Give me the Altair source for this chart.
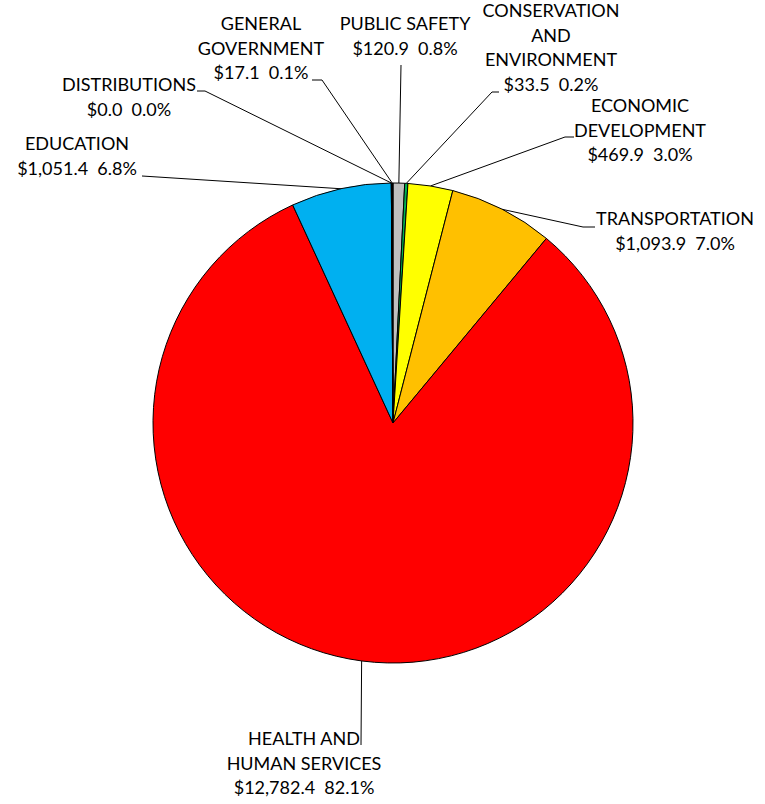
import math
import altair as alt
import pandas as pd

# ---- data ----
names = ["PUBLIC SAFETY", "CONSERVATION AND ENVIRONMENT", "ECONOMIC DEVELOPMENT",
         "TRANSPORTATION", "HEALTH AND HUMAN SERVICES", "EDUCATION",
         "DISTRIBUTIONS", "GENERAL GOVERNMENT"]
label_names = ["PUBLIC SAFETY", "CONSERVATION\nAND\nENVIRONMENT", "ECONOMIC\nDEVELOPMENT",
               "TRANSPORTATION", "HEALTH AND\nHUMAN SERVICES", "EDUCATION",
               "DISTRIBUTIONS", "GENERAL\nGOVERNMENT"]
values = [120.9, 33.5, 469.9, 1093.9, 12782.4, 1051.4, 0.0, 17.1]
colors = ["#BFBFBF", "#00B050", "#FFFF00", "#FFC000", "#FF0000", "#00B0F0", "#7F7F7F", "#000000"]

# ---- layout (pixels) ----
CX, CY, R = 393, 423, 240
label_x = [405, 551, 640, 675, 304, 77, 129, 261]
label_y = [25, 12, 107, 220, 740, 145, 86, 25]
leader_pts = [
    [(401, 65)],
    [(492, 92), (499, 92)],
    [(565, 137), (574, 137)],
    [(583, 227), (595, 227)],
    [(361, 745)],
    [(142, 176)],
    [(205, 91), (197, 91)],
    [(322, 80), (312, 80)],
]

total = sum(values)
slices = pd.DataFrame({"name": names, "value": values, "idx": list(range(len(names)))})

texts = []
for i, n in enumerate(names):
    v = values[i]
    txt = label_names[i] + "\n" + f"${v:,.1f}\u00a0\u00a0{v / total * 100:.1f}%"
    texts.append({"name": n, "text": txt, "x": label_x[i], "y": label_y[i]})
text_df = pd.DataFrame(texts)

rows = []
cum = 0.0
for i, n in enumerate(names):
    mid = (cum + values[i] / 2) / total * 2 * math.pi
    cum += values[i]
    px = CX + R * math.sin(mid)
    py = CY - R * math.cos(mid)
    pts = [(px, py)] + leader_pts[i]
    for j, (x, y) in enumerate(pts):
        rows.append({"name": n, "seq": j, "x": x, "y": y})
lines_df = pd.DataFrame(rows)

FONT = "Lato"

pie = alt.Chart(slices).mark_arc(outerRadius=R, stroke="black", strokeWidth=1).encode(
    theta=alt.Theta("value:Q", stack=True),
    order=alt.Order("idx:Q", sort="ascending"),
    color=alt.Color("name:N", scale=alt.Scale(domain=names, range=colors), legend=None),
    x=alt.value(CX),
    y=alt.value(CY),
)

leaders = alt.Chart(lines_df).mark_line(color="black", strokeWidth=1).encode(
    x=alt.X("x:Q", scale=None),
    y=alt.Y("y:Q", scale=None),
    detail="name:N",
    order="seq:Q",
)

labels = alt.Chart(text_df).mark_text(
    font=FONT, fontSize=18, lineBreak="\n", lineHeight=24.5,
    align="center", baseline="middle", color="#000000",
).encode(
    x=alt.X("x:Q", scale=None),
    y=alt.Y("y:Q", scale=None),
    text="text:N",
)

chart = alt.layer(pie, leaders, labels).properties(
    width=765, height=804, autosize="none", padding=0,
).configure_view(stroke=None)

chart.save("out.html", embed_options={"renderer": "svg", "actions": False})
